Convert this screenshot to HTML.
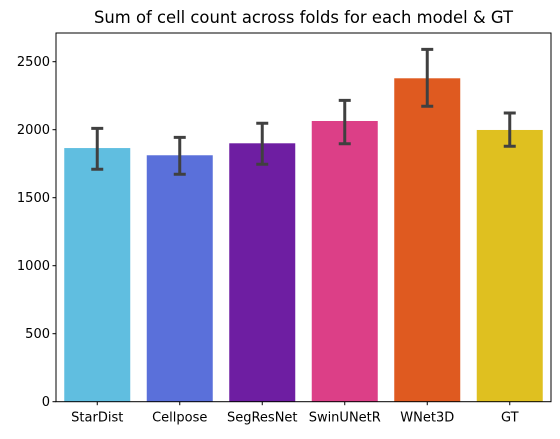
<!DOCTYPE html>
<html><head><meta charset="utf-8"><style>
body{margin:0;background:#fff;font-family:"DejaVu Sans","Liberation Sans",sans-serif}
</style></head><body>
<svg width="560" height="435" xmlns="http://www.w3.org/2000/svg" font-family="DejaVu Sans, Liberation Sans, sans-serif">
<text x="303.5" y="23" text-anchor="middle" font-size="16.4" fill="#000">Sum of cell count across folds for each model &amp; GT</text>
<g id="plot"></g>
<rect x="56" y="33" width="495" height="368.7" fill="none" stroke="#000" stroke-width="1"/>
</svg>
<script>
const categories=["StarDist","Cellpose","SegResNet","SwinUNetR","WNet3D","GT"];
const values=[1865,1812,1900,2064,2378,1998];
const errLow=[1709,1672,1746,1897,2172,1878];
const errHigh=[2010,1944,2047,2216,2591,2123];
const colors=["#60bee0","#5a70da","#6e1ea2","#dc3f87","#df5a20","#dfc020"];
const yTicks=[0,500,1000,1500,2000,2500];
const L=56,R=551,T=33,B=401.7,YMAX=2711;
const NS="http://www.w3.org/2000/svg";
const g=document.getElementById('plot');
const y=v=>B-(v/YMAX)*(B-T);
const band=(R-L)/categories.length;
const xc=i=>L+band*(i+0.5);
function mk(t,a){const e=document.createElementNS(NS,t);for(const k in a)e.setAttribute(k,a[k]);g.appendChild(e);return e;}
yTicks.forEach(t=>{
 const l=mk('line',{x1:L-3.5,x2:L,y1:y(t),y2:y(t),stroke:'#000'});
 
 
 const tx=mk('text',{x:L-6,y:y(t)+4.5,'text-anchor':'end','font-size':'13'});
 tx.textContent=t;
 
 
});
categories.forEach((c,i)=>{
 const w=band*0.8;
 const r=mk('rect',{x:xc(i)-w/2,y:y(values[i]),width:w,height:B-y(values[i]),fill:colors[i]});
 
 
 const e=mk('path',{d:`M${xc(i)},${y(errLow[i])}V${y(errHigh[i])}M${xc(i)-6},${y(errLow[i])}h12M${xc(i)-6},${y(errHigh[i])}h12`,stroke:'#404040','stroke-width':'3',fill:'none'});
 
 
 const tk=mk('line',{x1:xc(i),x2:xc(i),y1:B,y2:B+3.5,stroke:'#000'});
 
 
 const tx=mk('text',{x:xc(i),y:B+20,'text-anchor':'middle','font-size':'13'});
 tx.textContent=c;
 
 
});
</script>
</body></html>
